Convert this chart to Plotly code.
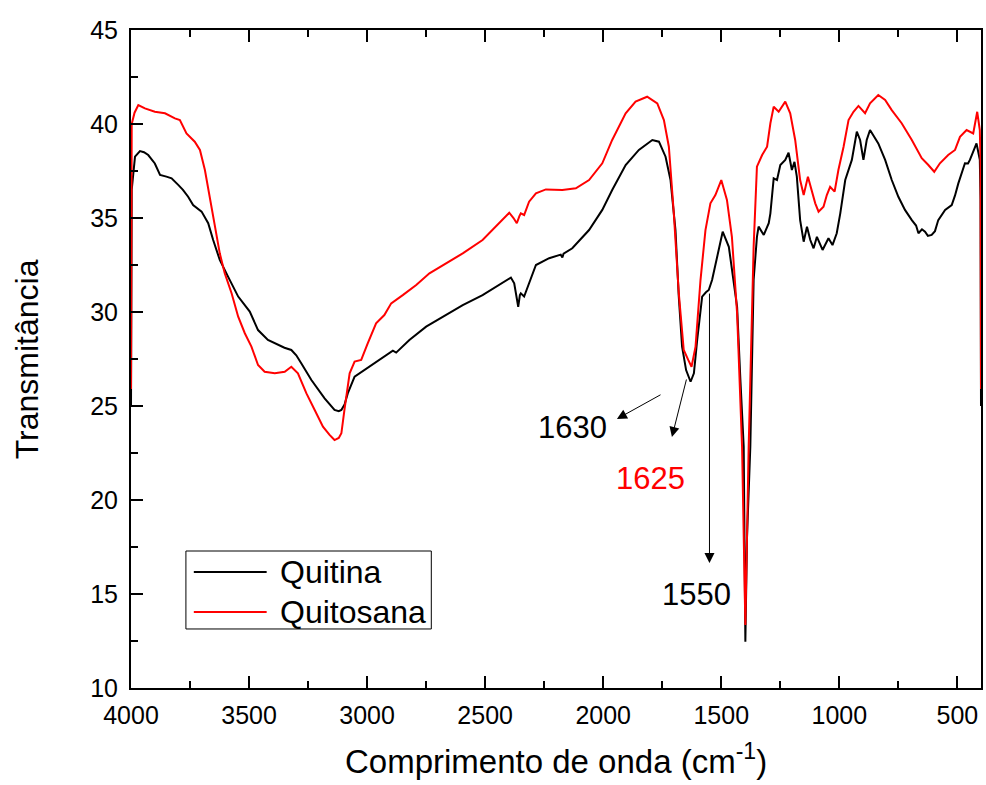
import plotly.graph_objects as go

# Quitina (chitin) spectrum: wavenumber (cm-1) and transmittance
quitina_x = [4000, 3997, 3983, 3962, 3945, 3927, 3899, 3877, 3850, 3828, 3800, 3780, 3758, 3737,
             3701, 3673, 3652, 3624, 3589, 3546, 3497, 3462, 3420, 3377, 3350, 3321, 3300, 3279,
             3236, 3180, 3138, 3120, 3109, 3095, 3082, 3053, 3011, 2969, 2934, 2891, 2877, 2860,
             2821, 2750, 2680, 2595, 2511, 2440, 2391, 2377, 2368, 2360, 2353, 2349, 2335, 2314,
             2285, 2229, 2180, 2173, 2168, 2131, 2060, 2004, 1962, 1905, 1849, 1792, 1764, 1736,
             1715, 1694, 1680, 1666, 1649, 1630, 1616, 1602, 1581, 1565, 1553, 1539, 1518, 1494,
             1468, 1447, 1433, 1419, 1405, 1398, 1391, 1377, 1363, 1349, 1342, 1320, 1299, 1292,
             1278, 1264, 1250, 1229, 1215, 1201, 1190, 1180, 1166, 1151, 1137, 1123, 1109, 1095,
             1071, 1046, 1029, 1011, 996, 975, 961, 947, 926, 912, 898, 884, 870, 835, 806, 778,
             750, 722, 693, 675, 665, 650, 637, 625, 609, 595, 581, 552, 524, 510, 496, 468, 455,
             447, 433, 419, 405, 402, 400]
quitina_y = [25.0, 36.5, 38.26, 38.56, 38.5, 38.35, 37.9, 37.29, 37.2, 37.11, 36.76, 36.5, 36.13, 35.69,
             35.34, 34.72, 33.83, 32.77, 31.88, 30.82, 30.02, 29.04, 28.51, 28.24, 28.1, 27.98, 27.7, 27.27,
             26.38, 25.41, 24.79, 24.72, 24.79, 25.1, 25.67, 26.56, 26.91, 27.27, 27.54, 27.94, 27.84, 28.05,
             28.51, 29.22, 29.75, 30.37, 30.90, 31.44, 31.83, 31.53, 30.8, 30.28, 30.9, 30.99, 30.82, 31.53,
             32.5, 32.86, 33.05, 32.9, 33.1, 33.39, 34.36, 35.43, 36.49, 37.82, 38.62, 39.15, 39.06, 38.26,
             37.02, 34.36, 30.82, 28.16, 26.91, 26.29, 26.74, 28.51, 30.82, 31.05, 31.17, 31.70, 32.94, 34.27,
             33.47, 31.70, 30.28, 26.38, 22.84, 12.46, 18.0, 22.84, 31.70, 34.0, 34.54, 34.1, 34.72, 35.25,
             37.11, 37.02, 37.82, 38.09, 38.47, 37.55, 37.99, 37.2, 34.89, 33.74, 34.54, 33.83, 33.39, 34.0,
             33.30, 33.92, 33.56, 34.19, 35.25, 37.02, 37.55, 38.09, 39.59, 39.15, 38.09, 39.15, 39.68, 38.97, 38.09, 37.02,
             36.13, 35.43, 34.89, 34.6, 34.19, 34.4, 34.27, 34.05, 34.10, 34.3, 34.89, 35.43, 35.69, 36.2, 36.84, 37.91, 37.9,
             38.09, 38.53, 38.97, 38.09, 36.0, 25.0]

# Quitosana (chitosan) spectrum
quitosana_x = [4000, 3997, 3985, 3969, 3941, 3920, 3899, 3856, 3814, 3793, 3765, 3730, 3708, 3687,
               3666, 3645, 3624, 3603, 3574, 3546, 3518, 3490, 3462, 3434, 3391, 3349, 3321, 3293,
               3257, 3222, 3187, 3159, 3138, 3120, 3109, 3096, 3074, 3053, 3025, 2997, 2962, 2927,
               2898, 2849, 2792, 2736, 2666, 2595, 2511, 2454, 2398, 2380, 2366, 2355, 2349, 2335,
               2314, 2285, 2243, 2173, 2116, 2060, 2004, 1962, 1905, 1863, 1814, 1771, 1743, 1722,
               1701, 1680, 1659, 1640, 1626, 1609, 1588, 1567, 1546, 1525, 1500, 1476, 1455, 1433,
               1412, 1398, 1384, 1363, 1349, 1327, 1306, 1292, 1278, 1257, 1229, 1208, 1187, 1166,
               1151, 1133, 1116, 1102, 1088, 1067, 1053, 1039, 1020, 1004, 982, 961, 940, 919, 891,
               870, 835, 806, 778, 736, 693, 651, 623, 598, 574, 539, 510, 489, 461, 433, 416,
               405, 402, 400]
quitosana_y = [25.9, 40.0, 40.6, 41.01, 40.83, 40.75, 40.65, 40.57, 40.30, 40.21, 39.50, 39.06, 38.62, 37.55,
               36.13, 34.72, 33.12, 32.06, 31.0, 29.75, 28.87, 28.16, 27.18, 26.82, 26.74, 26.82, 27.09, 26.74,
               25.67, 24.79, 23.90, 23.46, 23.19, 23.3, 23.55, 24.79, 26.74, 27.36, 27.45, 28.34, 29.40, 29.84,
               30.46, 30.90, 31.44, 32.06, 32.59, 33.12, 33.83, 34.54, 35.28, 35.0, 34.72, 35.1, 35.25, 35.16,
               35.87, 36.31, 36.52, 36.49, 36.58, 37.02, 37.91, 39.15, 40.57, 41.19, 41.45, 41.10, 40.21, 38.79,
               35.25, 31.0, 27.98, 27.45, 27.09, 28.16, 31.70, 34.36, 35.78, 36.22, 37.02, 35.96, 34.0, 29.93,
               22.84, 13.35, 22.84, 33.47, 37.73, 38.35, 38.79, 40.04, 40.92, 40.65, 41.19, 40.57, 39.15, 37.02,
               36.22, 37.2, 36.49, 35.78, 35.34, 35.60, 36.22, 36.66, 36.40, 37.55, 38.79, 40.21, 40.65, 40.96, 40.57,
               41.10, 41.54, 41.28, 40.74, 40.04, 39.15, 38.18, 37.82, 37.46, 37.91, 38.35, 38.62, 39.32, 39.68, 39.50, 40.65,
               39.68, 38.0, 25.9]

series_names = ["Quitina", "Quitosana"]
series_colors = ["#000000", "#ff0000"]

x_ticks = [4000, 3500, 3000, 2500, 2000, 1500, 1000, 500]
y_ticks = [10, 15, 20, 25, 30, 35, 40, 45]

FONT = "Arial, Liberation Sans, sans-serif"

fig = go.Figure()
fig.add_trace(go.Scatter(x=quitina_x, y=quitina_y, mode="lines", name=series_names[0],
                         line=dict(color=series_colors[0], width=2), showlegend=False))
fig.add_trace(go.Scatter(x=quitosana_x, y=quitosana_y, mode="lines", name=series_names[1],
                         line=dict(color=series_colors[1], width=2), showlegend=False))

axis_common = dict(showgrid=False, zeroline=False, showline=True, linecolor="black", linewidth=2,
                   ticks="inside", ticklen=12, tickwidth=2, tickcolor="black",
                   tickfont=dict(family=FONT, size=25, color="black"))

fig.update_xaxes(range=[4000, 400], tickvals=x_ticks, ticktext=[str(v) for v in x_ticks],
                 mirror="ticks", ticklabelstandoff=4,
                 minor=dict(dtick=250, tick0=0, ticks="inside", ticklen=7, tickwidth=2, tickcolor="black"),
                 **axis_common)
fig.update_yaxes(range=[10, 45], tickvals=y_ticks, ticktext=[str(v) for v in y_ticks],
                 mirror=True, ticklabelstandoff=6,
                 minor=dict(dtick=2.5, tick0=0, ticks="inside", ticklen=7, tickwidth=2, tickcolor="black"),
                 **axis_common)

# Peak annotations (arrows: head at x,y ; tail at ax,ay)
arrow = dict(showarrow=True, arrowhead=2, arrowsize=2, arrowwidth=1, arrowcolor="black",
             axref="x", ayref="y", text="", standoff=0, startstandoff=0)
fig.add_annotation(x=1942, y=24.31, ax=1751, ay=25.64, **arrow)
fig.add_annotation(x=1709, y=23.35, ax=1646, ay=26.49, **arrow)
fig.add_annotation(x=1550, y=16.65, ax=1550, ay=31.06, **arrow)

label_font = dict(family=FONT, size=31)
fig.add_annotation(x=2132, y=23.88, text="1630", showarrow=False, font=dict(color="black", **label_font))
fig.add_annotation(x=1798, y=21.12, text="1625", showarrow=False, font=dict(color="#ff0000", **label_font))
fig.add_annotation(x=1604, y=15.0, text="1550", showarrow=False, font=dict(color="black", **label_font))

# Axis titles
fig.add_annotation(xref="paper", yref="paper", x=0.5, y=-0.108, yanchor="middle",
                   text="Comprimento de onda (cm<sup>-1</sup>)", showarrow=False,
                   font=dict(family=FONT, size=33, color="black"))
fig.add_annotation(xref="paper", yref="paper", x=-0.122, y=0.5, xanchor="center", yanchor="middle",
                   text="Transmitância", textangle=-90, showarrow=False,
                   font=dict(family=FONT, size=32, color="black"))

# Legend box (drawn in paper coordinates)
fig.add_shape(type="rect", xref="paper", yref="paper", x0=0.0646, x1=0.3533, y0=0.0897, y1=0.2082,
              line=dict(color="black", width=1), fillcolor="white", layer="above")
legend_rows_y = [0.1763, 0.1155]
for name, color, ly in zip(series_names, series_colors, legend_rows_y):
    fig.add_shape(type="line", xref="paper", yref="paper", x0=0.0739, x1=0.1596, y0=ly, y1=ly,
                  line=dict(color=color, width=2), layer="above")
    fig.add_annotation(xref="paper", yref="paper", x=0.1725, y=ly, xanchor="left", yanchor="middle",
                       text=name, showarrow=False, font=dict(family=FONT, size=32, color="black"))

fig.update_layout(
    width=986, height=785,
    margin=dict(l=131, r=3, t=30, b=97),
    paper_bgcolor="white", plot_bgcolor="white",
    showlegend=False,
)

fig.write_html("out.html")
